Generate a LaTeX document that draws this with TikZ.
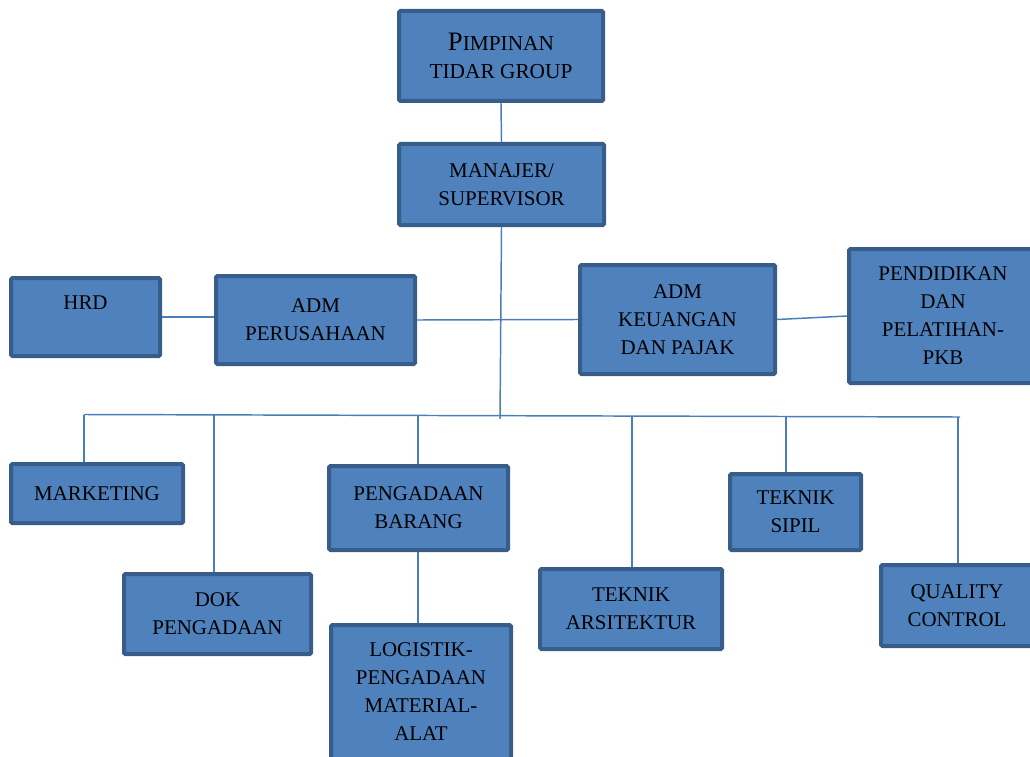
\documentclass[tikz,border=0pt]{standalone}
\usepackage{fontspec}
\setmainfont{Liberation Serif}
\usetikzlibrary{positioning}
\definecolor{boxfill}{RGB}{79,129,189}
\definecolor{boxedge}{RGB}{56,93,138}
\definecolor{linkblue}{RGB}{74,126,187}
\tikzset{
  unit/.style={draw=boxedge, fill=boxfill, line width=3pt, rounded corners=1pt,
    align=center, inner sep=0pt, text=black,
    font=\fontsize{15.7}{21}\selectfont},
  link/.style={draw=linkblue, line width=1.1pt}
}
\begin{document}
\begin{tikzpicture}[x=0.75pt,y=-0.75pt]
\useasboundingbox (0,0) rectangle (1030,756);
%
\node[unit, minimum width=153pt, minimum height=67.5pt] (top) at (501,56)
  {{\fontsize{20}{22.5}\selectfont P}{\fontsize{16}{22.5}\selectfont IMPINAN}\\{\fontsize{16}{22.5}\selectfont TIDAR GROUP}};
\node[unit, minimum width=153.75pt, minimum height=60.75pt] (mgr) at (501.5,184.5) {MANAJER/\\SUPERVISOR};
%
\node[unit, minimum width=111.75pt, minimum height=58.5pt] (hrd) at (85.5,317) {HRD\\\mbox{}};
\node[unit, minimum width=149.25pt, minimum height=66pt] (admp) at (315.5,320) {ADM\\PERUSAHAAN};
\node[unit, minimum width=146.25pt, minimum height=81.75pt] (admk) at (677.5,319.5) {ADM\\KEUANGAN\\DAN PAJAK};
\node[unit, minimum width=141pt, minimum height=100.5pt] (pkb) at (943,316) {PENDIDIKAN\\DAN\\PELATIHAN-\\PKB};
%
\node[unit, minimum width=129pt, minimum height=44.25pt] (mkt) at (97,493.5) {MARKETING};
\node[unit, minimum width=140.25pt, minimum height=60pt] (dok) at (217.5,614) {DOK\\PENGADAAN};
\node[unit, minimum width=134.25pt, minimum height=63pt] (barang) at (418.5,508) {PENGADAAN\\BARANG};
\node[unit, minimum width=135pt, minimum height=100.5pt] (logistik) at (421,692) {LOGISTIK-\\PENGADAAN\\MATERIAL-\\ALAT};
\node[unit, minimum width=136.5pt, minimum height=60pt] (ars) at (631,609) {TEKNIK\\ARSITEKTUR};
\node[unit, minimum width=98.25pt, minimum height=57pt] (sipil) at (795.5,512) {TEKNIK\\SIPIL};
\node[unit, minimum width=114pt, minimum height=60.75pt] (qc) at (957,605.5) {QUALITY\\CONTROL};
%
\coordinate (hub) at (500,419);
\coordinate (busL) at (84,414.5);
\coordinate (busR) at (960,417);
\coordinate (dDok) at (214,415);
\coordinate (dBarang) at (418,415.5);
\coordinate (dArs) at (632,416);
\coordinate (dSipil) at (786,416.5);
\coordinate (dQc) at (958,417);
%
\draw[link] (top.south) -- (mgr.north);
\draw[link] (mgr.south) -- (hub);
\draw[link] (hrd.east) -- (hrd.east -| admp.west);
\draw[link] (admp.east) -- (admk.west);
\draw[link] (admk.east) -- (pkb.west);
\draw[link] (busL) -- (busR);
%
\draw[link] (busL) -- (busL |- mkt.north);
\draw[link] (dDok) -- (dDok |- dok.north);
\draw[link] (dBarang) -- (dBarang |- barang.north);
\draw[link] (barang.south -| dBarang) -- (dBarang |- logistik.north);
\draw[link] (dArs) -- (dArs |- ars.north);
\draw[link] (dSipil) -- (dSipil |- sipil.north);
\draw[link] (dQc) -- (dQc |- qc.north);
\end{tikzpicture}
\end{document}
